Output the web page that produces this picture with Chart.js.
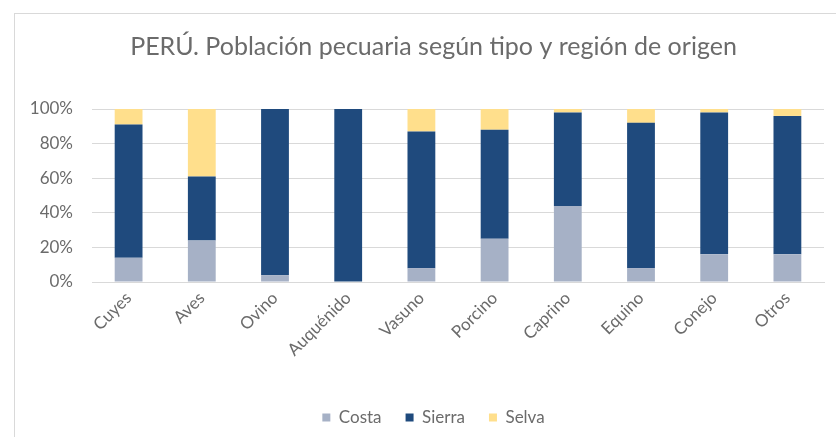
<!DOCTYPE html>
<html>
<head>
<meta charset="utf-8">
<script src="https://cdn.jsdelivr.net/npm/chart.js@4.4.1/dist/chart.umd.min.js"></script>
<style>
  html, body { margin: 0; padding: 0; background: #fff; overflow: hidden; }
  #frame {
    position: absolute; left: 14px; top: 13px;
    width: 838px; height: 440px;
    border-top: 1px solid #d9d9d9; border-left: 1px solid #d9d9d9;
  }
</style>
</head>
<body>
<div id="frame"><canvas id="chart" width="837" height="439"></canvas></div>
<script>
const categories = ["Cuyes", "Aves", "Ovino", "Auquénido", "Vasuno", "Porcino", "Caprino", "Equino", "Conejo", "Otros"];
const costa  = [14, 24, 4, 0, 8, 25, 44, 8, 16, 16];
const sierra = [77, 37, 96, 100, 79, 63, 54, 84, 82, 80];
const selva  = [9, 39, 0, 0, 13, 12, 2, 8, 2, 4];
const yTicks = [0, 20, 40, 60, 80, 100];

const textColor = "#6b6b6b";
const fontFamily = "Lato, 'Liberation Sans', sans-serif";

const ctx = document.getElementById("chart").getContext("2d");
const chart = new Chart(ctx, {
  type: "bar",
  data: {
    labels: categories,
    datasets: [
      { label: "Costa", data: costa, backgroundColor: "#a6b1c6" },
      { label: "Sierra", data: sierra, backgroundColor: "#1f4a7d" },
      { label: "Selva", data: selva, backgroundColor: "#ffdf8c" }
    ]
  },
  options: {
    responsive: false,
    animation: false,
    devicePixelRatio: 1,
    layout: { padding: { left: 0, right: 0, top: 0, bottom: 17 } },
    datasets: { bar: { barPercentage: 0.38, categoryPercentage: 1 } },
    plugins: {
      title: {
        display: true,
        text: "PERÚ. Población pecuaria según tipo y región de origen",
        color: textColor,
        font: { family: fontFamily, size: 25, weight: "normal" },
        padding: { top: 18, bottom: 47 }
      },
      legend: {
        position: "bottom",
        labels: {
          color: textColor,
          font: { family: fontFamily, size: 17 },
          boxWidth: 8, boxHeight: 8, padding: 24
        }
      },
      tooltip: { enabled: false }
    },
    scales: {
      x: {
        stacked: true,
        grid: { display: false, drawTicks: false },
        border: { color: "#d9d9d9" },
        ticks: {
          color: textColor,
          font: { family: fontFamily, size: 17 },
          minRotation: 45, maxRotation: 45, padding: 6
        },
        afterFit: (s) => { s.height = 103; }
      },
      y: {
        stacked: true,
        min: 0, max: 100,
        afterBuildTicks: (s) => { s.ticks = yTicks.map(v => ({ value: v })); },
        grid: { color: "#d9d9d9", drawTicks: false },
        border: { display: false },
        ticks: {
          color: textColor,
          font: { family: fontFamily, size: 17 },
          padding: 19,
          callback: (v) => v + "%"
        },
        afterFit: (s) => { s.width = 77; }
      },
      // empty right-hand axis, only keeps a margin beside the plot
      yRight: {
        position: "right",
        grid: { display: false, drawTicks: false },
        border: { display: false },
        ticks: { display: false },
        afterFit: (s) => { s.width = 28; }
      }
    }
  }
});
</script>
</body>
</html>
